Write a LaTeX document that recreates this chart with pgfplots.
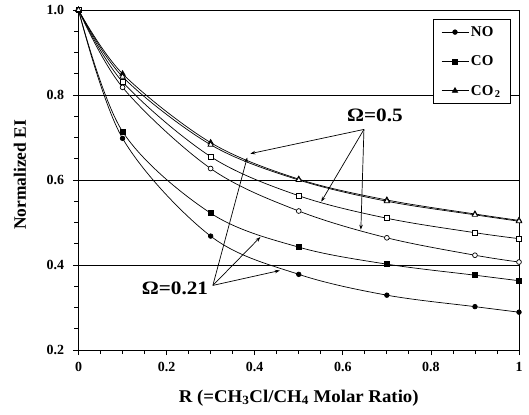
\documentclass[border=0pt]{standalone}
\usepackage{fontspec}
\setmainfont{Liberation Serif}
\usepackage{pgfplots}
\pgfplotsset{compat=1.18}
\usetikzlibrary{arrows.meta}

\begin{document}
\begin{tikzpicture}
\begin{axis}[
  name=ax, at={(0,0)}, anchor=south west,
  scale only axis, width=440.5bp, height=340bp,
  xmin=0, xmax=1, ymin=0.2, ymax=1.0,
  xtick={0,0.2,0.4,0.6,0.8,1}, ytick={0.2,0.4,0.6,0.8,1.0},
  minor tick num=3, tick pos=left, tick align=outside,
  major tick length=5bp, minor tick length=4bp,
  axis line style={line width=0.9bp},
  every tick/.style={black, line width=0.8bp},
  ymajorgrids, grid style={black, line width=0.7bp},
  /pgf/number format/assume math mode=true,
  tick label style={font=\fontsize{14}{14}\selectfont\bfseries},
  yticklabel style={xshift=-6bp, /pgf/number format/.cd, fixed, fixed zerofill, precision=1},
  xticklabel style={yshift=-4bp, /pgf/number format/.cd, fixed},
  xlabel={R (=CH\textsubscript{3}Cl/CH\textsubscript{4} Molar Ratio)},
  ylabel={Normalized EI},
  xlabel style={font=\fontsize{18}{19}\selectfont\bfseries, xscale=1.05,
    at={([yshift=-48bp]rel axis cs:0.50,0)}, anchor=center},
  ylabel style={font=\fontsize{17.5}{19}\selectfont\bfseries,
    at={([xshift=-58.5bp]rel axis cs:0,0.515)}, anchor=center},
  legend style={at={(rel axis cs:1,1)}, anchor=north east, xshift=-8bp, yshift=-9bp,
    draw=black, line width=0.8bp, font=\fontsize{15}{15}\selectfont\bfseries,
    row sep=14bp, inner xsep=8bp, inner ysep=5bp},
  legend cell align=left,
  legend image code/.code={%
    \draw[mark repeat=2, mark phase=2] plot coordinates {(0cm,0cm) (0.47cm,0cm) (0.95cm,0cm)};},
  every axis plot/.append style={black, line width=0.7bp},
  clip=false,
]
% Omega = 0.21 (filled marks)
\addplot[smooth, tension=0.55, mark=*, mark size=2.3bp] coordinates {
  (0,1) (0.1,0.698) (0.3,0.468) (0.5,0.378) (0.7,0.329) (0.9,0.302) (1,0.289)};
\addlegendentry{NO}
\addplot[smooth, tension=0.55, mark=square*, mark size=2.6bp] coordinates {
  (0,1) (0.1,0.714) (0.3,0.522) (0.5,0.442) (0.7,0.402) (0.9,0.376) (1,0.363)};
\addlegendentry{CO}
\addplot[smooth, tension=0.55, mark=triangle*, mark size=3.1bp] coordinates {
  (0,1) (0.1,0.850) (0.3,0.688) (0.5,0.602) (0.7,0.553) (0.9,0.520) (1,0.505)};
\addlegendentry{CO\kern1.5bp\textsubscript{2}}
% Omega = 0.5 (open marks)
\addplot[smooth, tension=0.55, mark=*, mark size=2.4bp, mark options={fill=white}, forget plot] coordinates {
  (0,1) (0.1,0.818) (0.3,0.627) (0.5,0.527) (0.7,0.464) (0.9,0.423) (1,0.407)};
\addplot[smooth, tension=0.55, mark=square*, mark size=2.6bp, mark options={fill=white}, forget plot] coordinates {
  (0,1) (0.1,0.831) (0.3,0.655) (0.5,0.563) (0.7,0.510) (0.9,0.476) (1,0.462)};
\addplot[smooth, tension=0.55, mark=triangle*, mark size=3.1bp, mark options={fill=white}, forget plot] coordinates {
  (0,1) (0.1,0.843) (0.3,0.683) (0.5,0.600) (0.7,0.550) (0.9,0.518) (1,0.503)};

% annotations
\node[font=\fontsize{19}{20}\selectfont\bfseries, xscale=1.12] at (axis cs:0.673,0.753) {Ω=0.5};
\node[font=\fontsize{19}{20}\selectfont\bfseries, xscale=1.12] at (axis cs:0.219,0.345) {Ω=0.21};
\begin{scope}[line width=0.7bp, -{Stealth[length=5bp,width=3.5bp]}]
\draw (axis cs:0.648,0.719) -- (axis cs:0.390,0.662);
\draw (axis cs:0.648,0.719) -- (axis cs:0.551,0.549);
\draw (axis cs:0.648,0.719) -- (axis cs:0.641,0.483);
\draw (axis cs:0.305,0.352) -- (axis cs:0.383,0.653);
\draw (axis cs:0.305,0.352) -- (axis cs:0.413,0.466);
\draw (axis cs:0.305,0.352) -- (axis cs:0.457,0.387);
\end{scope}
\end{axis}
\path (ax.south west) ++(-78.5bp,-65bp) rectangle ++(529bp,415bp);
\end{tikzpicture}
\end{document}
